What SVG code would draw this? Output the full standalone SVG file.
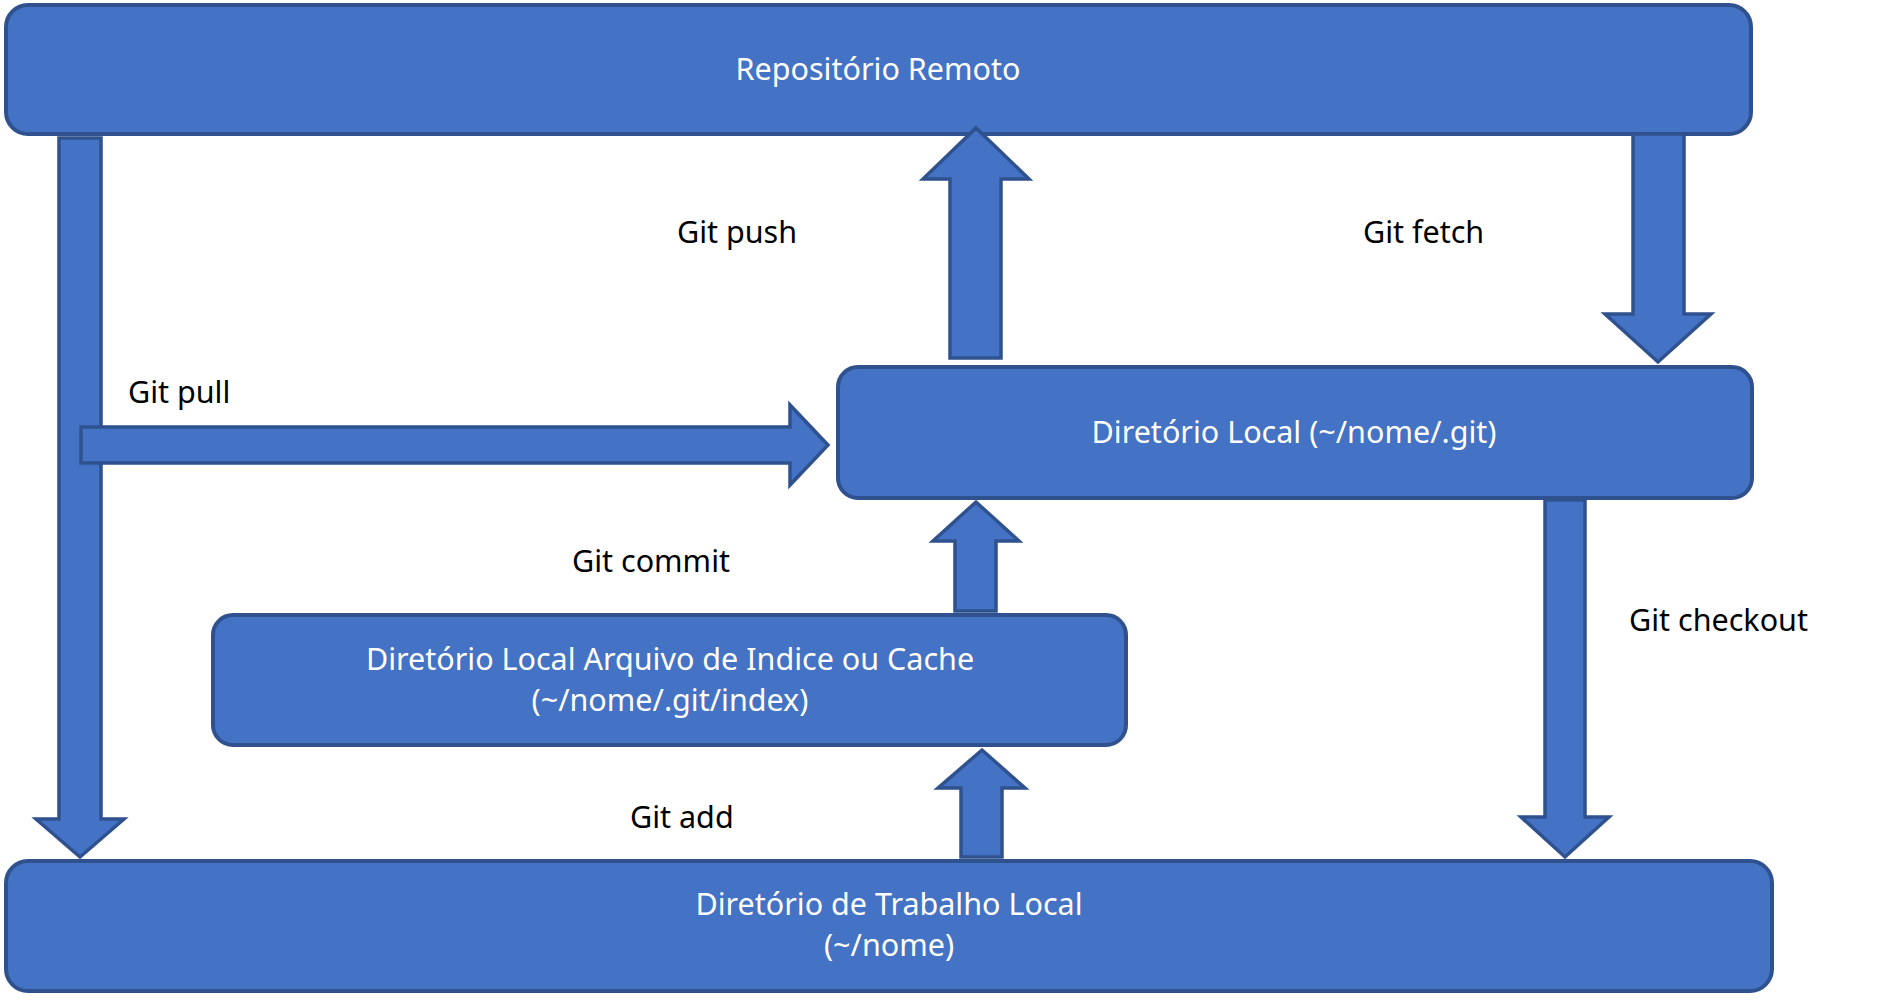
<svg xmlns="http://www.w3.org/2000/svg" width="1888" height="1003" viewBox="0 0 1888 1003">
<style>
.box{fill:#4472C4;stroke:#2F528F;stroke-width:4}
.arr{fill:#4472C4;stroke:#2F528F;stroke-width:3.5;stroke-linejoin:miter}
.t{font-family:"Noto Sans","Open Sans","Liberation Sans",sans-serif;font-size:30.5px;fill:#FFFFFF;text-anchor:middle}
.l{font-family:"Noto Sans","Open Sans","Liberation Sans",sans-serif;font-size:30.5px;fill:#000000}
</style>
<rect width="1888" height="1003" fill="#FFFFFF"/>
<g id="remoto">
<rect class="box" x="6" y="5" width="1745" height="129" rx="22"/>
<text class="t" x="878" y="80">Repositório Remoto</text>
</g>
<g id="local">
<rect class="box" x="838" y="367" width="914" height="131" rx="20"/>
<text class="t" x="1294" y="443">Diretório Local (~/nome/.git)</text>
</g>
<g id="index">
<rect class="box" x="213" y="615" width="913" height="130" rx="20"/>
<text class="t" x="670" y="670">Diretório Local Arquivo de Indice ou Cache</text>
<text class="t" x="670" y="711">(~/nome/.git/index)</text>
</g>
<g id="trabalho">
<rect class="box" x="6" y="861" width="1766" height="130" rx="22"/>
<text class="t" x="889" y="915">Diretório de Trabalho Local</text>
<text class="t" x="889" y="956">(~/nome)</text>
</g>
<g id="connectors">
<polygon class="arr" points="59,138 101,138 101,819 124,819 80,857 36,819 59,819"/>
<polygon class="arr" points="81,427 790,427 790,405 828,445 790,485 790,463 81,463"/>
<polygon class="arr" points="950,358 950,179 923,179 976,128 1029,179 1001,179 1001,358"/>
<polygon class="arr" points="1633,134 1684,134 1684,314 1711,314 1658,362 1605,314 1633,314"/>
<polygon class="arr" points="955,611 955,541 933,541 976,502 1019,541 996,541 996,611"/>
<polygon class="arr" points="961,857 961,788 938,788 982,750 1025,788 1002,788 1002,857"/>
<polygon class="arr" points="1545,500 1585,500 1585,817 1609,817 1565,857 1521,817 1545,817"/>
</g>
<g id="labels">
<text class="l" x="677" y="243">Git push</text>
<text class="l" x="1363" y="243">Git fetch</text>
<text class="l" x="128" y="403">Git pull</text>
<text class="l" x="572" y="572">Git commit</text>
<text class="l" x="630" y="828">Git add</text>
<text class="l" x="1629" y="631">Git checkout</text>
</g>
</svg>
